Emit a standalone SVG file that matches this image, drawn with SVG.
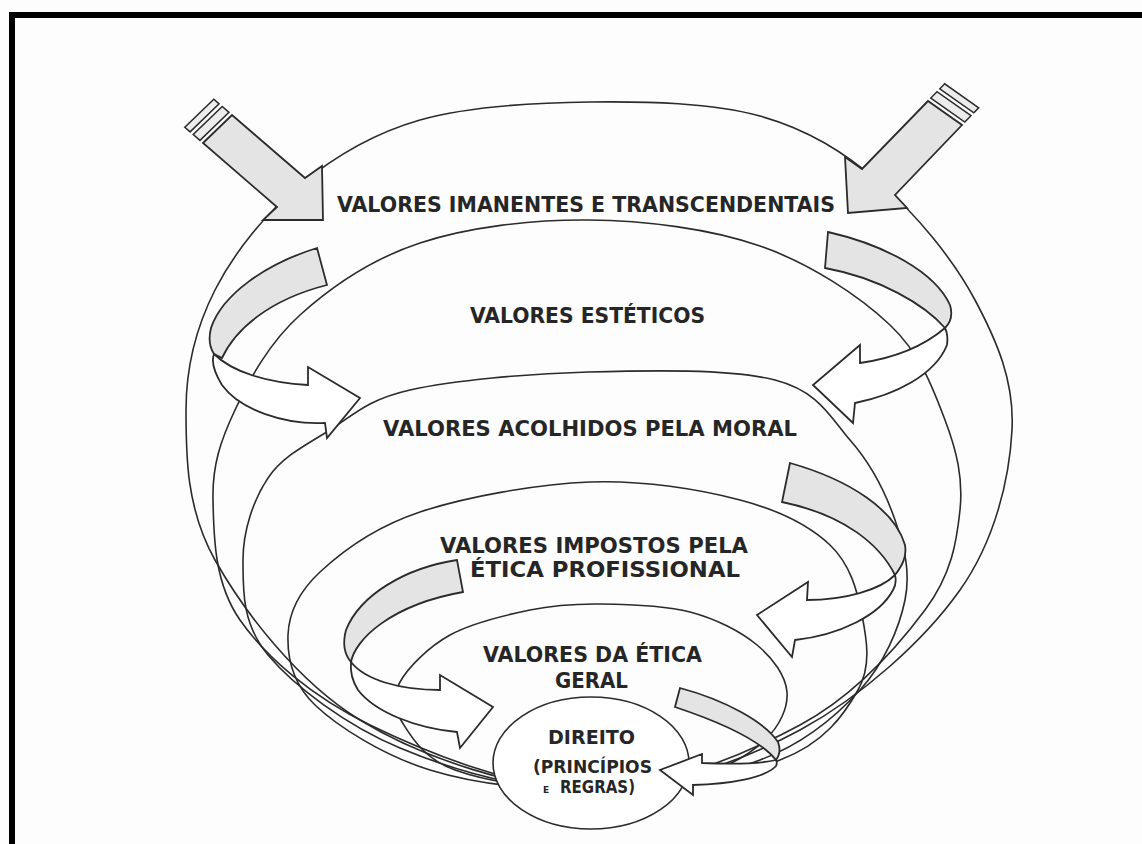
<svg xmlns="http://www.w3.org/2000/svg" width="1142" height="844" viewBox="0 0 1142 844">
<style>
.ln{fill:none;stroke:#2b2b2b;stroke-width:1.6}
.sh{fill:#e4e4e4;stroke:#2b2b2b;stroke-width:1.8;stroke-linejoin:miter}
.wh{fill:#ffffff;stroke:#2b2b2b;stroke-width:1.8;stroke-linejoin:miter}
.st{fill:#ececec;stroke:#2b2b2b;stroke-width:1.5}
.t{font-family:"DejaVu Sans",sans-serif;font-weight:bold;fill:#262626}
</style>
<rect x="0" y="0" width="1142" height="844" fill="#fdfdfd"/>
<g id="border" fill="#000">
<rect x="9" y="12" width="1133" height="6"/>
<rect x="9" y="12" width="6" height="832"/>
</g>
<g id="levels">
<path id="s1" class="ln" d="M590,790 C520,790 422.5,758.3 360,720 C297.5,681.7 244,611.7 215,560 C186,508.3 186,455 186,410 C186,365 196,327.5 215,290 C234,252.5 265.8,213.3 300,185 C334.2,156.7 371.7,133.8 420,120 C468.3,106.2 533.3,102.7 590,102 C646.7,101.3 711.7,102.5 760,116 C808.3,129.5 844.2,152.3 880,183 C915.8,213.7 953,258.8 975,300 C997,341.2 1014.5,381.7 1012,430 C1009.5,478.3 995.3,540 960,590 C924.7,640 861.7,696.7 800,730 C738.3,763.3 660,790 590,790 Z"/>
<path id="s2" class="ln" d="M590,790 C520,790 428.3,753.3 370,725 C311.7,696.7 266.2,657.5 240,620 C213.8,582.5 213.8,535 213,500 C212.2,465 220.5,440.8 235,410 C249.5,379.2 269.2,342.8 300,315 C330.8,287.2 372,258.8 420,243 C468,227.2 531.3,219.5 588,220 C644.7,220.5 709.7,228.5 760,246 C810.3,263.5 859.2,296 890,325 C920.8,354 933.3,389.2 945,420 C956.7,450.8 963.3,478.3 960,510 C956.7,541.7 951.7,574.2 925,610 C898.3,645.8 855.8,695 800,725 C744.2,755 660,790 590,790 Z"/>
<path id="s3" class="ln" d="M590,790 C520,790 453.7,770.5 400,748 C346.3,725.5 294.2,686.3 268,655 C241.8,623.7 243,589.5 243,560 C243,530.5 253.5,499.7 268,478 C282.5,456.3 306.3,444.7 330,430 C353.7,415 367,399.7 410,390 C453,380.3 527.2,373.7 588,372 C648.8,370.3 731.3,368.7 775,380 C818.7,391.3 830,416.7 850,440 C870.8,463.7 885.8,493.3 895,520 C904.2,546.7 910.8,571.7 905,600 C899.2,628.3 884.2,663.3 860,690 C835.8,716.7 805,743.3 760,760 C715,776.7 650,790 590,790 Z"/>
<path id="s4" class="ln" d="M590,790 C530,790 475.8,784.2 430,770 C384.2,755.8 338.7,727.5 315,705 C291.3,682.5 287.2,657.2 288,635 C288.8,612.8 298,592.5 320,572 C342,551.5 375,527 420,512 C465,497 536.7,484 590,482 C643.3,480 700,489.5 740,500 C780,510.5 809.7,525.8 830,545 C850.3,564.2 857.3,590.8 862,615 C866.7,639.2 871.7,665.8 858,690 C844.3,714.2 824.7,743.3 780,760 C735.3,776.7 650,790 590,790 Z"/>
<path id="s5" class="ln" d="M590,790 C540,790 486.3,781.3 455,770 C423.7,758.7 411.2,736.7 402,722 C392.8,707.3 392,696.5 400,682 C408,667.5 428.3,647 450,635 C471.7,623 505,615.2 530,610 C555,604.8 573.3,603.7 600,604 C626.7,604.3 663.8,605.2 690,612 C716.2,618.8 740.8,631.7 757,645 C773.2,658.3 785.7,676.2 787,692 C788.3,707.8 779.5,726.2 765,740 C750.5,753.8 729.2,766.7 700,775 C670.8,783.3 630,790 590,790 Z"/>
</g>
<g id="direito">
<ellipse cx="591" cy="763" rx="98" ry="66" fill="#ffffff" stroke="#2b2b2b" stroke-width="1.6"/>
</g>
<g id="connectors">
<g id="arrow-left">
<polygon class="st" points="200.0,140.4 229.0,112.4 222.2,106.5 193.2,134.5"/>
<polygon class="st" points="190.1,131.9 219.1,103.9 213.8,99.3 184.8,127.3"/>
<polygon class="sh" points="203,143 232,115 305,178 322,166 323,220 263,220 277,207"/>
</g>
<g id="arrow-right">
<polygon class="st" points="930.8,98.1 964.8,122.1 971.0,115.7 937.0,91.7"/>
<polygon class="st" points="939.8,88.8 973.8,112.8 978.7,107.8 944.7,83.8"/>
<polygon class="sh" points="928,101 862,169 845,157 848,213 907,208 895,195 962,125"/>
</g>
<g id="curl-1">
<path class="sh" d="M317,248 C265,264 222,295 211,328 C208,340 210,348 214,354 L222,358 C235,330 268,300 327,285 Z"/>
<path class="wh" d="M214,354 C232,372 268,383 308,385 L308,367 L360,398 L327,438 L325,423 C285,425 240,410 222,385 C214,372 211,362 214,354 Z"/>
</g>
<g id="curl-2">
<path class="sh" d="M828,232 C885,245 935,272 950,305 C953,315 950,323 945,328 C925,305 880,278 825,268 Z"/>
<path class="wh" d="M945,328 C925,345 895,358 860,363 L860,345 L813,385 L853,423 L855,403 C895,395 935,375 947,345 C948,338 947,332 945,328 Z"/>
</g>
<g id="curl-3">
<path class="sh" d="M790,463 C850,480 895,510 905,545 C907,557 902,566 895,575 C880,545 845,515 782,502 Z"/>
<path class="wh" d="M895,575 C880,590 845,600 807,600 L808,582 L757,615 L792,657 L795,640 C840,635 880,615 893,590 C896,585 896,579 895,575 Z"/>
</g>
<g id="curl-4">
<path class="sh" d="M457,560 C405,568 360,595 346,630 C342,645 345,655 351,662 C355,640 390,605 463,592 Z"/>
<path class="wh" d="M351,662 C365,680 400,690 440,690 L440,675 L493,707 L460,748 L457,732 C415,728 375,712 358,690 C353,682 350,672 351,662 Z"/>
</g>
<g id="curl-5">
<path class="sh" d="M680,688 C725,700 765,722 778,742 C781,750 779,756 776,760 C760,740 720,722 675,707 Z"/>
<path class="wh" d="M776,760 C760,764 730,764 702,763 L702,754 L660,770 L693,795 L693,785 C730,784 765,778 776,766 C777,764 777,762 776,760 Z"/>
</g>
</g>
<g id="labels">
<text class="t" x="337" y="212" font-size="21" textLength="498" lengthAdjust="spacingAndGlyphs">VALORES IMANENTES E TRANSCENDENTAIS</text>
<text class="t" x="470" y="323" font-size="21" textLength="235" lengthAdjust="spacingAndGlyphs">VALORES ESTÉTICOS</text>
<text class="t" x="383" y="436" font-size="21" textLength="414" lengthAdjust="spacingAndGlyphs">VALORES ACOLHIDOS PELA MORAL</text>
<text class="t" x="440" y="553" font-size="21" textLength="308" lengthAdjust="spacingAndGlyphs">VALORES IMPOSTOS PELA</text>
<text class="t" x="470" y="577" font-size="21" textLength="270" lengthAdjust="spacingAndGlyphs">ÉTICA PROFISSIONAL</text>
<text class="t" x="483" y="662" font-size="21" textLength="219" lengthAdjust="spacingAndGlyphs">VALORES DA ÉTICA</text>
<text class="t" x="555" y="688" font-size="21" textLength="73" lengthAdjust="spacingAndGlyphs">GERAL</text>
<text class="t" x="548" y="744" font-size="20" textLength="87" lengthAdjust="spacingAndGlyphs">DIREITO</text>
<text class="t" x="533" y="773" font-size="17.5" textLength="119" lengthAdjust="spacingAndGlyphs">(PRINCÍPIOS</text>
<text class="t" x="543" y="793" font-size="9">E</text>
<text class="t" x="560" y="793" font-size="17.5" textLength="75" lengthAdjust="spacingAndGlyphs">REGRAS)</text>
</g>
</svg>
